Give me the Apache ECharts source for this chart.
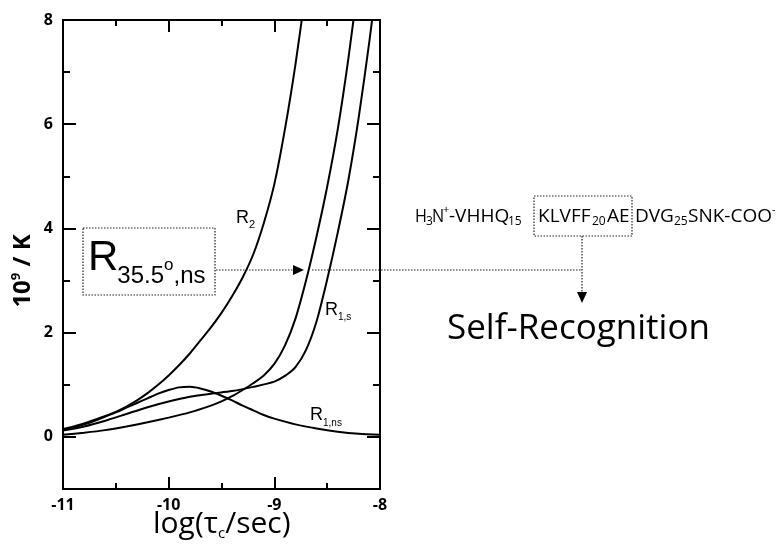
<!DOCTYPE html>
<html><head><meta charset="utf-8">
<script src="https://cdn.jsdelivr.net/npm/echarts@6/dist/echarts.min.js"></script>
<style>html,body{margin:0;padding:0;background:#fff}#c{width:778px;height:554px}</style>
</head><body><div id="c"></div>
<script>
// ---------- data ----------
const xTickValues = [-11, -10, -9, -8];
const yTickValues = [0, 2, 4, 6, 8];
const yMinorValues = [1, 3, 5, 7];

const r2X = [-11, -10.9, -10.8, -10.7, -10.6, -10.5, -10.4, -10.3, -10.2, -10.1, -10, -9.9, -9.8, -9.7, -9.6, -9.5, -9.4, -9.3, -9.2, -9.1, -9.0, -8.9, -8.8, -8.7];
const r2Y = [0.15, 0.2, 0.26, 0.33, 0.4, 0.48, 0.58, 0.7, 0.84, 1.0, 1.18, 1.38, 1.6, 1.85, 2.1, 2.38, 2.7, 3.06, 3.5, 4.1, 4.85, 5.9, 7.15, 8.6];

const r1nsX = [-11, -10.9, -10.8, -10.7, -10.6, -10.5, -10.4, -10.3, -10.2, -10.1, -10, -9.9, -9.8, -9.7, -9.6, -9.5, -9.4, -9.3, -9.2, -9.1, -9.0, -8.8, -8.6, -8.4, -8.2, -8.0];
const r1nsY = [0.13, 0.18, 0.24, 0.31, 0.39, 0.47, 0.56, 0.65, 0.74, 0.83, 0.9, 0.95, 0.96, 0.93, 0.87, 0.79, 0.7, 0.6, 0.51, 0.42, 0.35, 0.24, 0.16, 0.1, 0.06, 0.04];

const r355X = [-11, -10.8, -10.6, -10.4, -10.2, -10, -9.8, -9.6, -9.5, -9.4, -9.3, -9.2, -9.1, -9.0, -8.9, -8.8, -8.7, -8.6, -8.5, -8.4, -8.3, -8.2];
const r355Y = [0.04, 0.08, 0.13, 0.2, 0.28, 0.37, 0.47, 0.6, 0.68, 0.78, 0.9, 1.03, 1.18, 1.4, 1.75, 2.27, 3.0, 3.85, 4.8, 5.9, 7.25, 8.8];

const r1sX = [-11, -10.8, -10.6, -10.4, -10.2, -10, -9.8, -9.6, -9.4, -9.2, -9.0, -8.9, -8.8, -8.7, -8.6, -8.5, -8.4, -8.3, -8.2, -8.1, -8.0];
const r1sY = [0.12, 0.2, 0.31, 0.44, 0.57, 0.68, 0.77, 0.83, 0.88, 0.96, 1.06, 1.17, 1.34, 1.67, 2.22, 3.02, 3.92, 4.92, 6.15, 7.6, 9.2];

const xTitle = ['log(\u03c4', 'c', '/sec)'];
const yTitle = ['10', '9', ' / K'];
const peptide = ['H', '3', 'N', '+', '-VHHQ', '15', 'KLVFF', '20', 'AE', 'DVG', '25', 'SNK-COO', '-'];
const boxLabel = ['R', '35.5', 'o', ',ns'];
const bigLabel = 'Self-Recognition';

// ---------- helpers ----------
const SANS = '"Liberation Sans", Arial, sans-serif';
const HUM = '"Open Sans", sans-serif';
const mctx = document.createElement('canvas').getContext('2d');
function midK(fam) { return fam === SANS ? 0.28 : 0.25; }
function tw(t, size, fam, weight) {
  mctx.font = (weight || 'normal') + ' ' + size + 'px ' + fam;
  return mctx.measureText(t).width;
}
function txt(t, x, base, size, fam, weight, extra) {
  return Object.assign({
    type: 'text', x: x, y: base - midK(fam) * size, z: 10,
    style: { text: t, fontSize: size, fontFamily: fam, fontWeight: weight || 'normal',
             fill: '#000', align: 'left', verticalAlign: 'middle' }
  }, extra || {});
}
// sequential run: segs = [text, size, baselineOffset, dxBefore]
function run(x, base, segs, fam, weight) {
  const out = []; let cx = x;
  segs.forEach(s => {
    cx += (s[3] || 0);
    out.push(txt(s[0], cx, base + (s[2] || 0), s[1], fam, weight));
    cx += tw(s[0], s[1], fam, weight);
  });
  return out;
}
const dotted = { stroke: '#222', lineWidth: 1.2, lineDash: [1.5, 1.5], fill: null };
function dline(x1, y1, x2, y2) {
  return { type: 'line', z: 10, shape: { x1, y1, x2, y2 }, style: Object.assign({}, dotted) };
}
function drect(x, y, w, h) {
  return { type: 'rect', z: 10, shape: { x, y, width: w, height: h }, style: Object.assign({}, dotted) };
}
function tri(points) {
  return { type: 'polygon', z: 10, shape: { points }, style: { fill: '#000' } };
}
const zip = (xs, ys) => xs.map((x, i) => [x, ys[i]]);

// ---------- chart ----------
const chart = echarts.init(document.getElementById('c'), null, { renderer: 'canvas' });
const axisLine = { show: true, onZero: false, lineStyle: { color: '#000', width: 2 } };
const tickLbl = { color: '#000', fontSize: 16, fontWeight: 'bold', fontFamily: HUM };

function xAx(pos, labels) {
  return {
    type: 'value', position: pos, min: xTickValues[0], max: xTickValues[xTickValues.length - 1], interval: 1,
    axisLine: Object.assign({}, axisLine), splitLine: { show: false },
    axisTick: { show: true, inside: true, length: 12, lineStyle: { color: '#000', width: 2 } },
    minorTick: { show: true, splitNumber: 2, length: 6, lineStyle: { color: '#000', width: 2 } },
    axisLabel: labels ? Object.assign({ show: true, margin: 8 }, tickLbl) : { show: false }
  };
}
function yAx(pos, values, len, labels) {
  return {
    type: 'value', position: pos, min: -1, max: 8, interval: 1,
    axisLine: Object.assign({}, axisLine), splitLine: { show: false },
    axisTick: { show: true, inside: true, length: len, customValues: values, lineStyle: { color: '#000', width: 2 } },
    axisLabel: labels ? Object.assign({ show: true, margin: 10, customValues: values }, tickLbl) : { show: false }
  };
}
function curve(x, y) {
  return { type: 'line', data: zip(x, y), showSymbol: false, smooth: 0.25, clip: true,
           lineStyle: { color: '#000', width: 2 }, silent: true };
}

const graphics = [];
// curve labels
graphics.push(...run(236, 223, [['R', 18], ['2', 11, 5]], SANS));
graphics.push(...run(325, 315, [['R', 18], ['1,s', 10, 5]], SANS));
graphics.push(...run(310, 420, [['R', 18], ['1,ns', 10, 6]], SANS));
// boxed label
graphics.push(drect(83, 228, 132, 67));
graphics.push(...run(88, 270, [[boxLabel[0], 42], [boxLabel[1], 24, 13, -1], [boxLabel[2], 17, 0], [boxLabel[3], 24, 13]], SANS));
// arrows
graphics.push(dline(216, 270, 295, 270));
graphics.push(tri([[293, 265], [304, 270], [293, 275]]));
graphics.push(dline(312, 270, 582, 270));
graphics.push(dline(582, 236, 582, 292));
graphics.push(tri([[577, 292], [587, 292], [582, 303]]));
// peptide
graphics.push(drect(534, 196, 98, 40));
const PB = 221, PS = 19, SS = 12;
const narrow = { scaleX: 0.85 };
graphics.push(txt(peptide[0], 415, PB, PS, HUM, 'normal', narrow));
graphics.push(txt(peptide[1], 426, PB + 4, SS, HUM));
graphics.push(txt(peptide[2], 432, PB, PS, HUM, 'normal', narrow));
graphics.push(txt(peptide[3], 443, PB - 8, 11, HUM));
graphics.push(txt(peptide[4], 449, PB, PS, HUM));
graphics.push(txt(peptide[5], 508, PB + 4, SS, HUM));
graphics.push(txt(peptide[6], 538, PB, PS, HUM));
graphics.push(txt(peptide[7], 592, PB + 4, SS, HUM));
graphics.push(txt(peptide[8], 607, PB, PS, HUM));
graphics.push(txt(peptide[9], 635, PB, PS, HUM));
graphics.push(txt(peptide[10], 674, PB + 4, SS, HUM));
graphics.push(txt(peptide[11], 688, PB, PS, HUM));
graphics.push(txt(peptide[12], 772, PB - 8, 11, HUM));
// Self-Recognition
graphics.push(txt(bigLabel, 447, 338, 35, HUM));
// x-axis title
graphics.push(...run(153, 532, [[xTitle[0], 30], [xTitle[1], 15, 5], [xTitle[2], 30]], HUM));
// y-axis title (rotated)
graphics.push({
  type: 'text', x: 23, y: 271, rotation: Math.PI / 2, z: 10,
  style: {
    text: '{a|' + yTitle[0] + '}{s|' + yTitle[1] + '}{a|' + yTitle[2] + '}',
    align: 'center', verticalAlign: 'middle', fill: '#000',
    rich: {
      a: { fontSize: 24, fontWeight: 'bold', fontFamily: HUM, lineHeight: 26, fill: '#000' },
      s: { fontSize: 13, fontWeight: 'bold', fontFamily: HUM, lineHeight: 13, verticalAlign: 'top', fill: '#000' }
    }
  }
});

chart.setOption({
  animation: false,
  backgroundColor: '#fff',
  grid: { left: 63, top: 20, width: 317, height: 469, containLabel: false },
  xAxis: [xAx('bottom', true), xAx('top', false)],
  yAxis: [yAx('left', yTickValues, 13, true), yAx('left', yMinorValues, 7, false),
          yAx('right', yTickValues, 13, false), yAx('right', yMinorValues, 7, false)],
  series: [curve(r2X, r2Y), curve(r1nsX, r1nsY), curve(r355X, r355Y), curve(r1sX, r1sY)],
  graphic: graphics
});
</script>
</body></html>
